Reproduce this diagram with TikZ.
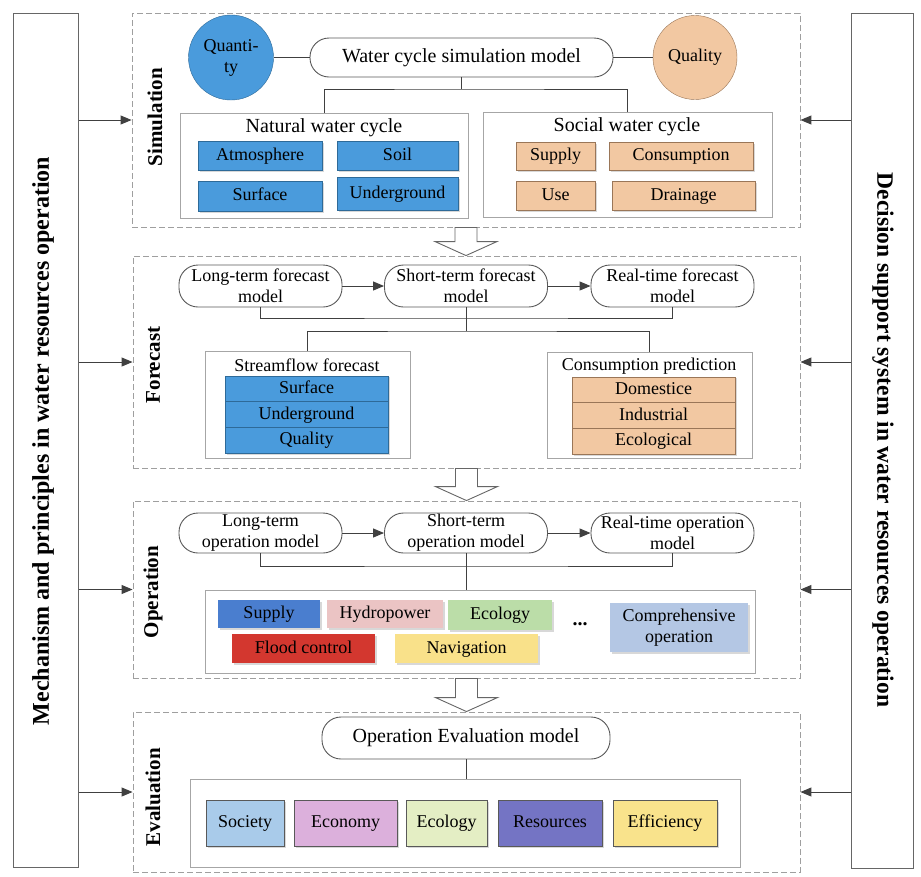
\documentclass[tikz,border=0pt]{standalone}
\usepackage{fontspec}
\setmainfont{Liberation Serif}
\usetikzlibrary{arrows.meta,calc,shadows}

\definecolor{wblue}{HTML}{4A9BDC}
\definecolor{wblueedge}{HTML}{2E6A98}
\definecolor{wtan}{HTML}{F2C8A2}
\definecolor{wtanedge}{HTML}{9A7658}
\definecolor{opsupply}{HTML}{4A7ECF}
\definecolor{ophydro}{HTML}{EBC4C4}
\definecolor{opeco}{HTML}{BBDDA8}
\definecolor{opflood}{HTML}{D3372F}
\definecolor{opnav}{HTML}{F9E18A}
\definecolor{opcomp}{HTML}{B4C7E4}
\definecolor{evsoc}{HTML}{A9CBEA}
\definecolor{evecon}{HTML}{DCB0DC}
\definecolor{eveco}{HTML}{E4EEC4}
\definecolor{evres}{HTML}{7474C4}
\definecolor{eveff}{HTML}{F9E38C}

\newcommand{\bigfs}{\fontsize{20}{23}\selectfont}
\newcommand{\midfs}{\fontsize{18}{21}\selectfont}
\def\hollowarrow#1#2{\draw[harrow] let \p1=(#1), \p2=(#2) in (\x1-11pt,\y1) -- (\x1+11pt,\y1) -- (\x1+11pt,\y2+14pt) -- (\x1+31pt,\y2+14pt) -- (\x1,\y2) -- (\x1-31pt,\y2+14pt) -- (\x1-11pt,\y2+14pt) -- cycle;}

\tikzset{
  sect/.style={draw=gray!75, dash pattern=on 6pt off 3pt, line width=0.9pt, fill=white, inner sep=0pt},
  sidebar/.style={draw=gray!80!black, line width=1pt, fill=white, inner sep=0pt},
  model/.style={draw=gray!70!black, line width=0.9pt, fill=white, rounded corners=19pt, inner sep=0pt, align=center},
  group/.style={draw=gray!70, line width=1pt, fill=white, inner sep=0pt},
  cellshadow/.style={drop shadow={opacity=0.3, shadow xshift=1.5pt, shadow yshift=-1.5pt}},
  multicell/.style={inner sep=0pt, align=center, font=\midfs},
  cell/.style={multicell, text height=12.5pt, text depth=3.5pt},
  bluecell/.style={cell, draw=wblueedge, fill=wblue, cellshadow},
  tancell/.style={cell, draw=wtanedge, fill=wtan, cellshadow},
  opcell/.style={cell, cellshadow},
  evcell/.style={cell, draw=gray!70!black, cellshadow},
  conn/.style={draw=black!75, line width=1pt},
  arr/.style={conn, -{Triangle[length=11pt,width=9pt]}},
  harrow/.style={draw=black!60, line width=0.9pt, fill=white},
  seclabel/.style={rotate=90, font=\bfseries\fontsize{21}{24}\selectfont},
}

\begin{document}
\begin{tikzpicture}[x=1pt, y=-1pt]
  \useasboundingbox (0,0) rectangle (921,876);

  % side bars
  \node[sidebar, minimum width=65pt, minimum height=854pt] (mech) at (45.5,440) {};
  \node[rotate=90, font=\bfseries\fontsize{24}{28}\selectfont] (mechtxt) at (43,441) {Mechanism and principles in water resources operation};
  \node[sidebar, minimum width=62pt, minimum height=855pt] (dss) at (882,440.5) {};
  \node[rotate=-90, font=\bfseries\fontsize{23.5}{28}\selectfont] (dsstxt) at (883,440) {Decision support system in water resources operation};

  % sections
  \node[sect, minimum width=668pt, minimum height=214pt] (sim) at (466,120) {};
  \node[sect, minimum width=667pt, minimum height=212pt] (fc) at (466.5,362) {};
  \node[sect, minimum width=667pt, minimum height=177pt] (op) at (466.5,589.5) {};
  \node[sect, minimum width=667pt, minimum height=160pt] (ev) at (466.5,792) {};

  \foreach \s in {sim,fc,op,ev} {
    \draw[arr] (mech.east |- \s.west) -- (\s.west);
    \draw[arr] (dss.west |- \s.east) -- (\s.east);
  }

  \hollowarrow{sim.south}{fc.north}
  \hollowarrow{fc.south}{op.north}
  \hollowarrow{op.south}{ev.north}

  % simulation
  \node[seclabel] (simlbl) at (155,117) {Simulation};
  \node[circle, draw=wblueedge, fill=wblue, minimum size=85pt, inner sep=0pt, align=center, font=\fontsize{18}{21}\selectfont] (qty) at (231,57.5) {Quanti-\\ty};
  \node[model, minimum width=303pt, minimum height=39pt, font=\bigfs] (wcsm) at (461.5,57.5) {Water cycle simulation model};
  \node[circle, draw=wtanedge, fill=wtan, minimum size=84pt, inner sep=0pt, font=\fontsize{18}{21}\selectfont] (qual) at (695,57.5) {Quality};
  \draw[conn] (qty) -- (wcsm);
  \draw[conn] (wcsm) -- (qual);

  \node[group, minimum width=288pt, minimum height=105pt] (nat) at (324,165.5) {};
  \node[font=\bigfs] (natlbl) at (324,128) {Natural water cycle};
  \node[bluecell, minimum width=124pt, minimum height=29pt] (atmo) at (260,155.5) {Atmosphere};
  \node[bluecell, minimum width=121pt, minimum height=29pt] (soil) at (397.5,155.5) {Soil};
  \node[bluecell, minimum width=124pt, minimum height=30pt] (surf) at (260,196) {Surface};
  \node[bluecell, minimum width=121pt, minimum height=33pt] (under) at (397.5,194) {Underground};

  \node[group, minimum width=289pt, minimum height=105pt] (soc) at (627.5,164.5) {};
  \node[font=\bigfs] (soclbl) at (627,127) {Social water cycle};
  \node[tancell, minimum width=79pt, minimum height=28pt] (supply) at (555.5,156) {Supply};
  \node[tancell, minimum width=144pt, minimum height=28pt] (consum) at (681,156) {Consumption};
  \node[tancell, minimum width=79pt, minimum height=29pt] (use) at (555.5,195.5) {Use};
  \node[tancell, minimum width=143pt, minimum height=29pt] (drain) at (683.5,195.5) {Drainage};

  \coordinate (simj) at (463,89);
  \draw[conn] (wcsm.south) -- (wcsm.south |- simj);
  \draw[conn] (nat.north) |- (simj) -| (soc.north);

  % forecast
  \node[seclabel] (fclbl) at (153,365) {Forecast};
  \node[model, minimum width=163pt, minimum height=42pt, font=\midfs] (lfm) at (260.5,286) {Long-term forecast\\model};
  \node[model, minimum width=163pt, minimum height=42pt, font=\midfs] (sfm) at (466,286) {Short-term forecast\\model};
  \node[model, minimum width=163pt, minimum height=42pt, font=\midfs] (rfm) at (672.5,286) {Real-time forecast\\model};
  \draw[arr] (lfm) -- (sfm);
  \draw[arr] (sfm) -- (rfm);

  \node[group, minimum width=205pt, minimum height=107pt] (sf) at (307.5,404.5) {};
  \node[font=\midfs] (sflbl) at (307,365) {Streamflow forecast};
  \node[bluecell, minimum width=163pt, minimum height=25.7pt] (sfsurf) at (306.5,388.8) {Surface};
  \node[bluecell, minimum width=163pt, minimum height=25.7pt] (sfund) at (306.5,414.5) {Underground};
  \node[bluecell, minimum width=163pt, minimum height=25.7pt] (sfqual) at (306.5,440.2) {Quality};

  \node[group, minimum width=205pt, minimum height=106pt] (cp) at (649.5,405) {};
  \node[font=\midfs] (cplbl) at (649,366) {Consumption prediction};
  \node[tancell, minimum width=163pt, minimum height=25.7pt] (cpdom) at (653.5,389.8) {Domestice};
  \node[tancell, minimum width=163pt, minimum height=25.7pt] (cpind) at (653.5,415.5) {Industrial};
  \node[tancell, minimum width=163pt, minimum height=25.7pt] (cpeco) at (653.5,441.2) {Ecological};

  \coordinate (fcj1) at (466,318);
  \coordinate (fcj2) at (466,331);
  \draw[conn] (lfm.south) |- (fcj1) -| (rfm.south);
  \draw[conn] (sfm.south) -- (fcj2);
  \draw[conn] (sf.north) |- (fcj2) -| (cp.north);

  % operation
  \node[seclabel] (oplbl) at (153,592) {Operation};
  \node[model, minimum width=163pt, minimum height=40pt, font=\midfs] (lom) at (260.5,533) {Long-term\\operation model};
  \node[model, minimum width=163pt, minimum height=40pt, font=\midfs] (som) at (466,533) {Short-term\\operation model};
  \node[model, minimum width=163pt, minimum height=40pt, font=\midfs] (rom) at (672.5,533) {Real-time operation\\model};
  \draw[arr] (lom) -- (som);
  \draw[arr] (som) -- (rom);

  \node[group, minimum width=550pt, minimum height=83pt] (opitems) at (480,631.5) {};
  \coordinate (opj) at (466,566);
  \draw[conn] (lom.south) |- (opj) -| (rom.south);
  \draw[conn] (som.south) -- (som.south |- opitems.north);

  \node[opcell, fill=opsupply, minimum width=102pt, minimum height=28pt] (opsup) at (269,614) {Supply};
  \node[opcell, fill=ophydro, minimum width=116pt, minimum height=28pt] (ophyd) at (385,614) {Hydropower};
  \node[opcell, fill=opeco, minimum width=104pt, minimum height=30pt] (opecol) at (500,615) {Ecology};
  \node[opcell, fill=opflood, minimum width=143pt, minimum height=29pt] (opfld) at (303.5,648.5) {Flood control};
  \node[opcell, fill=opnav, minimum width=143pt, minimum height=29pt] (opnavi) at (466.5,648.5) {Navigation};
  \node[font=\bfseries\bigfs] (opdots) at (580,624) {...};
  \node[multicell, cellshadow, fill=opcomp, minimum width=138pt, minimum height=49pt] (opcmp) at (679,627.5) {Comprehensive\\operation};

  % evaluation
  \node[seclabel] (evlbl) at (153,797) {Evaluation};
  \node[model, minimum width=288pt, minimum height=42pt, font=\bigfs] (oem) at (466,738) {Operation Evaluation model};
  \node[group, minimum width=550pt, minimum height=88pt] (evitems) at (465,823) {};
  \draw[conn] (oem.south) -- (oem.south |- evitems.north);

  \node[evcell, fill=evsoc, minimum width=78pt, minimum height=46pt] (evsoc) at (245,823) {Society};
  \node[evcell, fill=evecon, minimum width=103pt, minimum height=46pt] (evecon) at (345.5,823) {Economy};
  \node[evcell, fill=eveco, minimum width=81pt, minimum height=46pt] (eveco) at (446.5,823) {Ecology};
  \node[evcell, fill=evres, minimum width=104pt, minimum height=46pt] (evres) at (550,823) {Resources};
  \node[evcell, fill=eveff, minimum width=104pt, minimum height=46pt] (eveff) at (665,823) {Efficiency};
\end{tikzpicture}
\end{document}
